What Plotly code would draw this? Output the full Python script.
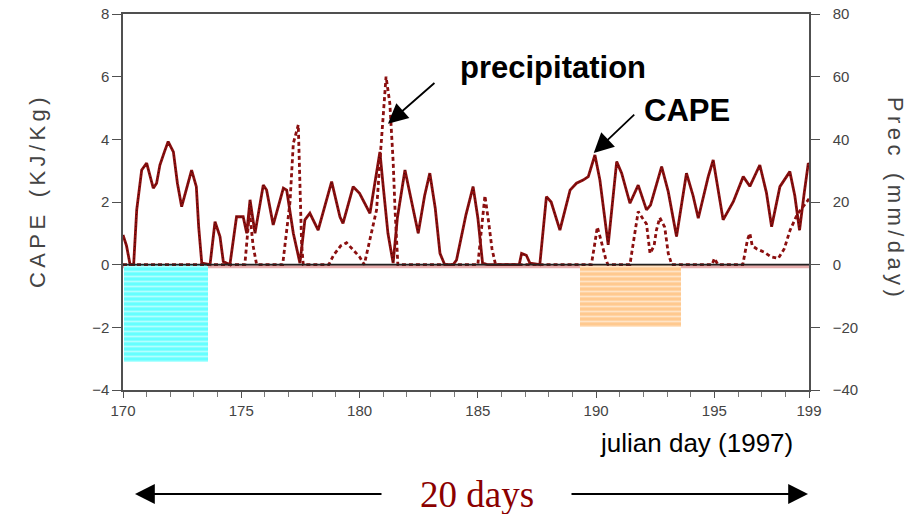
import plotly.graph_objects as go

# CAPE (kJ/kg) time series, julian day 1997
cape_day = [170.0, 170.15, 170.3, 170.45, 170.58, 170.79, 171.0, 171.15, 171.28, 171.42,
            171.56, 171.75, 171.91, 172.13, 172.3, 172.48, 172.7, 172.9, 173.1, 173.2,
            173.33, 173.68, 173.89, 174.1, 174.24, 174.52, 174.8, 175.08, 175.23, 175.37,
            175.58, 175.93, 176.07, 176.35, 176.78, 176.92, 177.2, 177.48, 177.69, 177.9,
            178.25, 178.82, 179.17, 179.3, 179.73, 180.0, 180.44, 180.86, 181.0, 181.2,
            181.42, 181.6, 181.92, 182.2, 182.48, 182.75, 182.97, 183.2, 183.4, 183.6,
            183.96, 184.1, 184.5, 184.8, 185.0, 185.2, 185.4, 186.75, 186.85, 187.05,
            187.2, 187.62, 187.9, 188.1, 188.47, 188.9, 189.17, 189.45, 189.67, 189.95,
            190.16, 190.51, 190.87, 191.08, 191.43, 191.78, 192.13, 192.3, 192.77, 193.05,
            193.4, 193.82, 194.1, 194.32, 194.74, 194.95, 195.1, 195.37, 195.8, 196.22,
            196.5, 196.92, 197.2, 197.42, 197.77, 198.19, 198.4, 198.6, 198.8, 198.97, 199.0]
cape_val = [0.95, 0.6, 0.0, 0.0, 1.75, 3.02, 3.24, 2.8, 2.44, 2.6,
            3.18, 3.6, 3.93, 3.6, 2.6, 1.85, 2.5, 3.02, 2.49, 1.2,
            0.05, 0.0, 1.37, 0.9, 0.1, 0.0, 1.53, 1.53, 1.0, 2.07,
            1.0, 2.54, 2.38, 1.27, 2.44, 2.38, 1.0, 0.05, 1.43, 1.64,
            1.1, 2.65, 1.53, 1.32, 2.49, 2.28, 1.64, 3.6, 2.5, 1.0,
            0.05, 1.5, 3.02, 2.0, 1.0, 2.2, 2.92, 1.8, 0.36, 0.0,
            0.0, 0.15, 1.6, 2.49, 1.5, 0.05, 0.0, 0.0, 0.36, 0.3,
            0.05, 0.0, 2.17, 2.0, 1.1, 2.38, 2.6, 2.7, 2.81, 3.5,
            2.7, 0.63, 3.29, 2.92, 1.96, 2.54, 1.75, 1.9, 3.13, 2.33,
            0.9, 2.92, 2.2, 1.48, 2.81, 3.34, 2.7, 1.43, 2.01, 2.81,
            2.5, 3.18, 2.3, 1.21, 2.49, 2.97, 2.2, 1.1, 2.3, 3.24, 3.2]

# Precipitation (mm/day)
prec_day = [170.0, 175.15, 175.35, 175.5, 175.65, 176.75, 177.06, 177.13, 177.2, 177.41,
            177.48, 177.55, 177.62, 178.7, 178.9, 179.2, 179.45, 179.7, 180.0, 180.2,
            180.37, 180.72, 180.86, 181.0, 181.12, 181.28, 181.42, 181.5, 181.56, 181.62,
            185.0, 185.15, 185.3, 185.45, 185.6, 185.75, 189.8, 189.95, 190.05, 190.2,
            190.4, 190.5, 191.43, 191.57, 191.78, 191.95, 192.13, 192.28, 192.45, 192.55,
            192.69, 192.9, 193.05, 193.2, 194.9, 195.0, 195.15, 196.2, 196.4, 196.5,
            196.6, 196.8, 197.1, 197.4, 197.7, 197.95, 198.2, 198.5, 198.8, 199.0]
prec_val = [0, 0, 17, 6, 0, 0, 20, 28, 38.7, 44.6,
            28, 6.8, 0, 0, 3, 6, 7, 5, 2.5, 0,
            5.7, 17.5, 33, 49, 60, 51.5, 33, 17.5, 5.7, 0,
            0, 12, 22, 14, 5, 0, 0, 7, 12, 8,
            2, 0, 0, 6.8, 17, 15, 13, 3.6, 6, 11,
            15, 12, 3.6, 0, 0, 2, 0, 0, 8, 10,
            6, 5, 4, 2.5, 2, 5, 11, 16, 19, 21]

# Shaded periods below the zero line (start day, end day, depth in CAPE units, colour)
period_start = [170.05, 189.3]
period_end = [173.6, 193.6]
period_depth = [-3.1, -2.0]
period_color = ["#66ffff", "#ffc98f"]

x_ticks = [170, 175, 180, 185, 190, 195, 199]
cape_ticks = [-4, -2, 0, 2, 4, 6, 8]
prec_ticks = [-40, -20, 0, 20, 40, 60, 80]

LINE_RED = "#8b0f0f"
AXIS_GREY = "#505050"
TICK_FONT = dict(family="Liberation Sans", size=15, color="#444444")
THIN = "\u2009"

fig = go.Figure()

for s, e, d, c in zip(period_start, period_end, period_depth, period_color):
    fig.add_trace(go.Bar(
        x=[(s + e) / 2], y=[d], base=0, width=[e - s],
        marker=dict(color=c, line=dict(width=0),
                    pattern=dict(shape="-", fgcolor="white", size=5, solidity=0.35)),
        showlegend=False, hoverinfo="skip", yaxis="y"))

fig.add_trace(go.Scatter(
    x=prec_day, y=prec_val, mode="lines", yaxis="y2",
    line=dict(color=LINE_RED, width=2.8, dash="4px,3px"), showlegend=False))

fig.add_trace(go.Scatter(
    x=cape_day, y=cape_val, mode="lines", yaxis="y",
    line=dict(color=LINE_RED, width=2.8), showlegend=False))
fig.add_trace(go.Scatter(
    x=cape_day, y=cape_val, mode="lines", yaxis="y",
    line=dict(color="rgba(0,0,0,0.6)", width=1, dash="1px,3px"), showlegend=False))

def spaced(word):
    return THIN.join(word)

arrow = dict(showarrow=True, arrowhead=2, arrowsize=2.2, arrowwidth=1.8, arrowcolor="black")
mid = dict(xanchor="center", yanchor="middle")

annotations = [
    dict(text=spaced("CAPE") + THIN * 4 + spaced("(KJ/Kg)"), xref="paper", yref="paper",
         x=(37 - 123) / 686, y=(390 - 192) / 376, textangle=-90, showarrow=False,
         font=dict(family="Liberation Sans", size=22, color="#444444"), **mid),
    dict(text=spaced("Prec") + THIN * 4 + spaced("(mm/day)"), xref="paper", yref="paper",
         x=(896 - 123) / 686, y=(390 - 197) / 376, textangle=90, showarrow=False,
         font=dict(family="Liberation Sans", size=22, color="#444444"), **mid),
    dict(text="julian day (1997)", xref="paper", yref="paper", x=(696 - 123) / 686, y=(390 - 443) / 376,
         showarrow=False, font=dict(family="Liberation Sans", size=26, color="black"), **mid),
    dict(text="<b>precipitation</b>", xref="paper", yref="paper", x=(553 - 123) / 686, y=(390 - 68) / 376,
         showarrow=False, font=dict(family="Liberation Sans", size=31, color="black"), **mid),
    dict(text="<b>CAPE</b>", xref="paper", yref="paper", x=(687 - 123) / 686, y=(390 - 110) / 376,
         showarrow=False, font=dict(family="Liberation Sans", size=31, color="black"), **mid),
    dict(text="", xref="x", yref="y", x=181.2, y=4.5, ax=48, ay=-42, **arrow),
    dict(text="", xref="x", yref="y", x=189.9, y=3.56, ax=42, ay=-40, **arrow),
    dict(text="20 days", xref="paper", yref="paper", x=(477 - 123) / 686, y=(390 - 494) / 376,
         showarrow=False, font=dict(family="Liberation Serif", size=37, color="#8b0000"), **mid),
    dict(text="", xref="paper", yref="paper", x=(135 - 123) / 686, y=(390 - 494) / 376,
         ax=248, ay=0, **arrow),
    dict(text="", xref="paper", yref="paper", x=(808 - 123) / 686, y=(390 - 494) / 376,
         ax=-238, ay=0, **arrow),
]

fig.update_layout(
    width=912, height=514,
    margin=dict(l=123, r=103, t=14, b=124, autoexpand=False),
    paper_bgcolor="white", plot_bgcolor="white",
    barmode="overlay", bargap=0,
    annotations=annotations,
    shapes=[
        dict(type="line", xref="paper", yref="y", x0=0, x1=1, y0=-0.05, y1=-0.05,
             line=dict(color="rgba(205,90,90,0.5)", width=4), layer="below"),
        dict(type="line", xref="paper", yref="y", x0=0, x1=1, y0=0, y1=0,
             line=dict(color="#222222", width=1.6), layer="above"),
    ],
    xaxis=dict(range=[170, 199], tickvals=x_ticks, ticktext=[str(v) for v in x_ticks],
               automargin=False, showgrid=False, zeroline=False, showline=True,
               linecolor=AXIS_GREY, linewidth=1.5, mirror=True, ticks="outside", ticklen=6,
               tickcolor=AXIS_GREY, tickfont=TICK_FONT,
               minor=dict(dtick=1, ticks="outside", ticklen=5, tickcolor="#777777")),
    yaxis=dict(range=[-4, 8], tickvals=cape_ticks, automargin=False, showgrid=False, zeroline=False,
               showline=True, linecolor=AXIS_GREY, linewidth=1.5, ticks="outside", ticklen=9,
               tickcolor=AXIS_GREY, tickfont=TICK_FONT),
    yaxis2=dict(range=[-40, 80], tickvals=prec_ticks, overlaying="y", side="right", automargin=False,
                showgrid=False, zeroline=False, showline=True, linecolor=AXIS_GREY, linewidth=1.5,
                ticks="outside", ticklen=9, tickcolor=AXIS_GREY, tickfont=TICK_FONT,
                ticklabelstandoff=10),
)

fig.write_html("out.html")
